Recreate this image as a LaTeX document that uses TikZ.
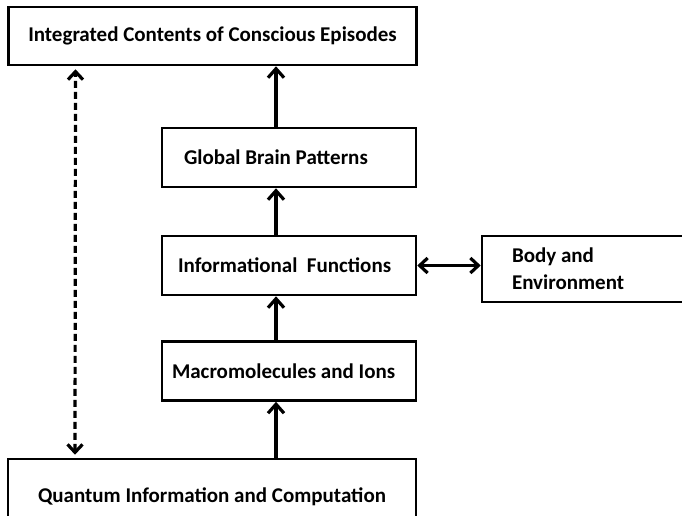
\documentclass[tikz,border=0pt]{standalone}
\usepackage{fontspec}
\setmainfont{Carlito}
\usetikzlibrary{arrows.meta,positioning}
\tikzstyle{block} = [draw, line width=2.6pt, fill=white, rectangle, font=\bfseries\fontsize{21}{27}\selectfont]
\tikzstyle{wideblock} = [block, minimum width=408pt, align=center]
\tikzstyle{narrowblock} = [block, align=flush left, minimum height=59pt]
\tikzstyle{link} = [line width=3.2pt, -{Straight Barb[length=9pt,width=16pt]}]
\tikzstyle{twolink} = [line width=3.2pt, {Straight Barb[length=8pt,width=15pt]}-{Straight Barb[length=8pt,width=15pt]}]
\tikzstyle{dashlink} = [twolink, dash pattern=on 7pt off 4pt, shorten >=3pt, shorten <=3pt]

\begin{document}
\begin{tikzpicture}[x=1pt, y=1pt]
\useasboundingbox (0,0) rectangle (682,-515);
% Nodes
	\node [wideblock, minimum height=58pt] at (212.5,-36) (top) {Integrated Contents of Conscious Episodes};
	\node [narrowblock, text width=210pt, inner xsep=22pt] at (289,-157.5) (global) {Global Brain Patterns};
	\node [narrowblock, text width=222pt, inner xsep=16pt, below of=global, node distance=108pt] (info) {Informational\ \ Functions};
	\node [narrowblock, text width=234pt, inner xsep=10pt, below of=info, node distance=105.5pt] (macro) {Macromolecules and Ions};
	\node [narrowblock, text width=170pt, inner xsep=30pt, minimum height=66pt, right of=info, node distance=308pt, yshift=-3.5pt] (body) {Body and\\Environment};
	\node [wideblock, minimum height=76pt] at (212,-497) (quantum) {Quantum Information and Computation};
% Connections
	\draw [link] ([xshift=-13pt]global.north) -- ([xshift=-13pt]global.north |- top.south);
	\draw [link] ([xshift=-13pt]info.north) -- ([xshift=-13pt]global.south);
	\draw [link] ([xshift=-13pt]macro.north) -- ([xshift=-13pt]info.south);
	\draw [link] ([xshift=-13pt]macro.south |- quantum.north) -- ([xshift=-13pt]macro.south);
	\draw [twolink] (info.east) -- (info.east -| body.west);
	\draw [dashlink] ([xshift=-137pt]quantum.north) -- ([xshift=-137pt]top.south);
\end{tikzpicture}
\end{document}
